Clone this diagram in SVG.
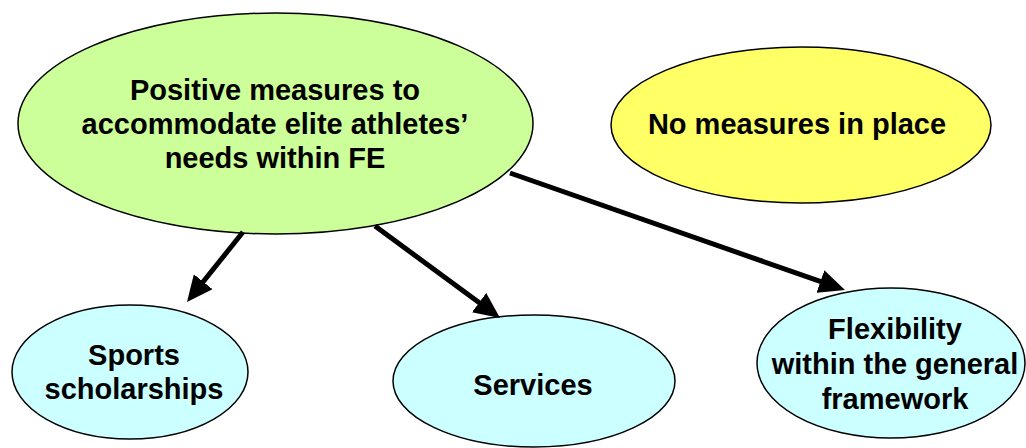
<svg xmlns="http://www.w3.org/2000/svg" width="1026" height="448" viewBox="0 0 1026 448">
<defs>
<style>
.node ellipse{stroke:#000;stroke-width:1.5}
.lbl{font-family:"Liberation Sans",Arial,sans-serif;font-weight:bold;font-size:29px;fill:#000;text-anchor:middle}
.edge{stroke:#000;stroke-width:5;fill:none;marker-end:url(#ah)}
</style>
<marker id="ah" viewBox="0 0 26 24" refX="18" refY="12" markerWidth="26" markerHeight="24" markerUnits="userSpaceOnUse" orient="auto">
<path d="M0,0 L26,12 L0,24 z" fill="#000"/>
</marker>
</defs>
<rect width="1026" height="448" fill="#fff"/>
<g id="positive" class="node">
<ellipse cx="275.5" cy="123.5" rx="257.5" ry="110.5" fill="#CCFF99"/>
<text class="lbl" x="275" y="100">Positive measures to</text>
<text class="lbl" x="275" y="134">accommodate elite athletes’</text>
<text class="lbl" x="275" y="168">needs within FE</text>
</g>
<g id="nomeasures" class="node">
<ellipse cx="801" cy="125" rx="190" ry="78" fill="#FFFF66"/>
<text class="lbl" x="797" y="134">No measures in place</text>
</g>
<g id="sports" class="node">
<ellipse cx="130" cy="372" rx="118" ry="67" fill="#CCFFFF"/>
<text class="lbl" x="134" y="365">Sports</text>
<text class="lbl" x="134" y="399">scholarships</text>
</g>
<g id="services" class="node">
<ellipse cx="534" cy="381" rx="141" ry="66" fill="#CCFFFF"/>
<text class="lbl" x="533" y="395">Services</text>
</g>
<g id="flexibility" class="node">
<ellipse cx="891" cy="363" rx="134" ry="75" fill="#CCFFFF"/>
<text class="lbl" x="895" y="339">Flexibility</text>
<text class="lbl" x="895" y="374">within the general</text>
<text class="lbl" x="895" y="409">framework</text>
</g>
<g id="connectors">
<line class="edge" x1="243" y1="232" x2="192" y2="295.8"/>
<line class="edge" x1="375" y1="226" x2="493.6" y2="313.3"/>
<line class="edge" x1="510" y1="173" x2="837.4" y2="287.4"/>
</g>
</svg>
